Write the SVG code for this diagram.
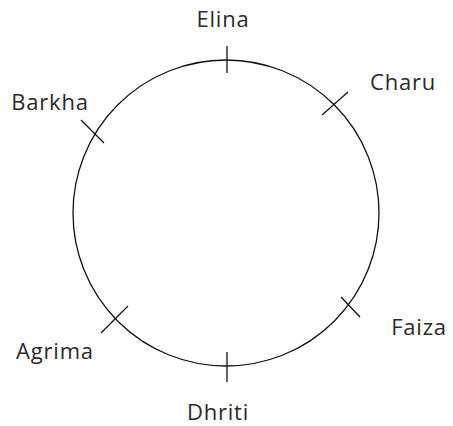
<svg xmlns="http://www.w3.org/2000/svg" width="453" height="426" viewBox="0 0 453 426">
<style>
.lbl{font-family:"Open Sans","Liberation Sans",sans-serif;font-size:22px;font-weight:500;letter-spacing:0.8px;fill:#2a2a2a;text-anchor:middle}
.ln{stroke:#111;stroke-width:1.3;fill:none}
</style>
<rect width="453" height="426" fill="#fff"/>
<g id="ring"><circle class="ln" cx="226" cy="213" r="153"/></g>
<g id="connectors">
<line class="ln" x1="227" y1="46" x2="227" y2="73"/>
<line class="ln" x1="322" y1="115" x2="348" y2="92"/>
<line class="ln" x1="81" y1="120" x2="104" y2="143"/>
<line class="ln" x1="341" y1="297" x2="360" y2="317"/>
<line class="ln" x1="101" y1="333" x2="128" y2="306"/>
<line class="ln" x1="227" y1="352" x2="227" y2="382"/>
</g>
<g id="elina"><text class="lbl" x="223" y="27">Elina</text></g>
<g id="charu"><text class="lbl" x="403" y="90">Charu</text></g>
<g id="barkha"><text class="lbl" x="50" y="110">Barkha</text></g>
<g id="faiza"><text class="lbl" x="419" y="335">Faiza</text></g>
<g id="agrima"><text class="lbl" x="55" y="359">Agrima</text></g>
<g id="dhriti"><text class="lbl" x="218" y="420">Dhriti</text></g>
</svg>
